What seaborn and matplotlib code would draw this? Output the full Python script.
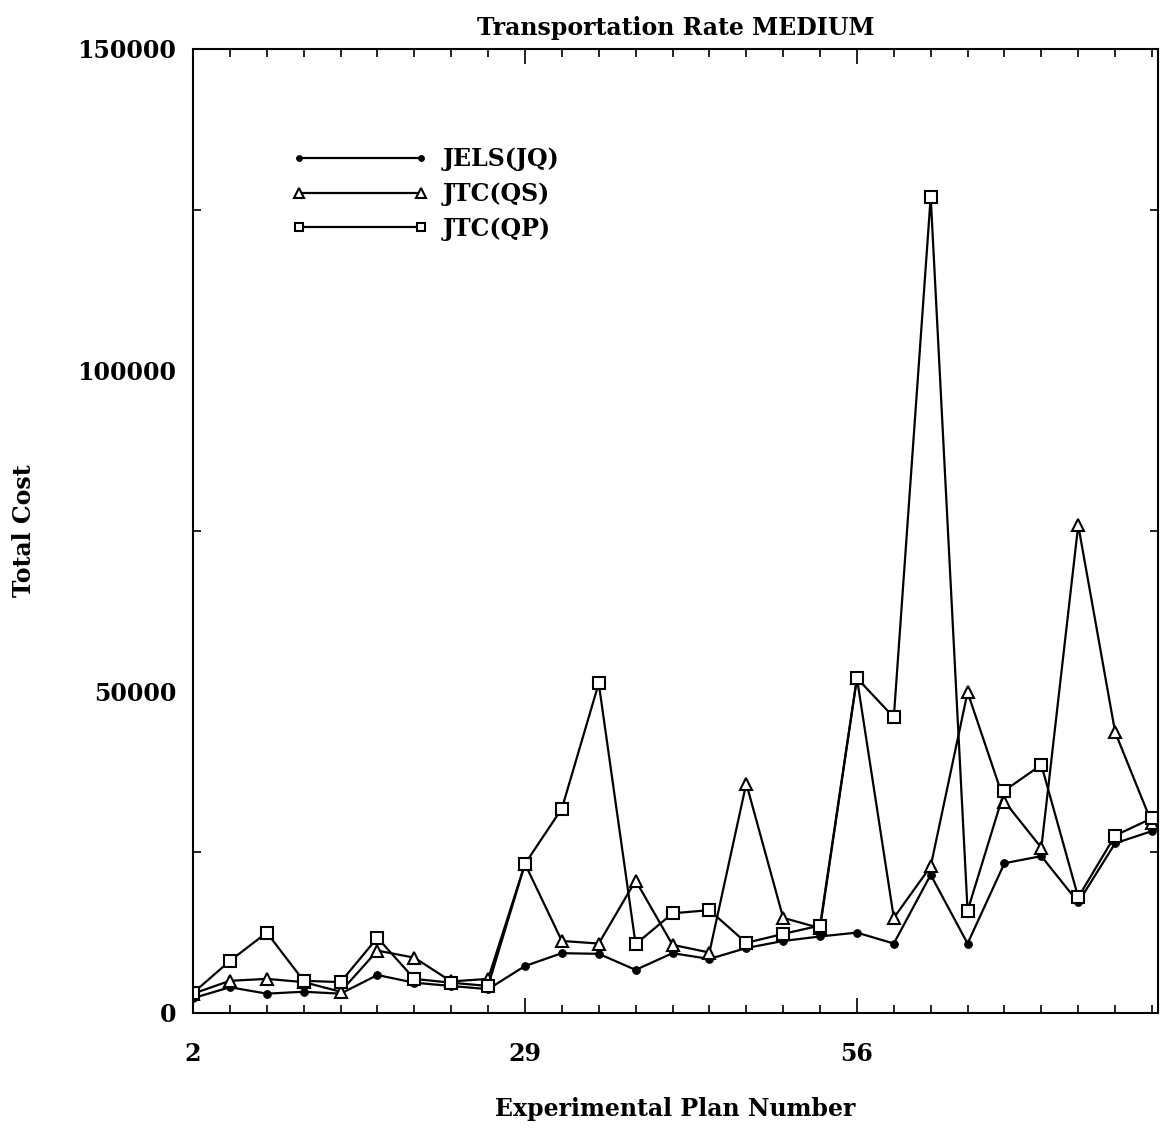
import numpy as np
import pandas as pd
import seaborn as sns
import matplotlib.pyplot as plt
from matplotlib.ticker import MultipleLocator, FixedLocator

# data
plan = [2, 5, 8, 11, 14, 17, 20, 23, 26, 29, 32, 35, 38, 41, 44, 47, 50, 53,
        56, 59, 62, 65, 68, 71, 74, 77, 80]
jels_jq = [2300, 4000, 3000, 3300, 3000, 5900, 4700, 4200, 3700, 7300, 9300,
           9200, 6700, 9300, 8400, 10100, 11200, 11900, 12500, 10800, 21500,
           10800, 23300, 24400, 17200, 26400, 28300]
jtc_qs = [3000, 5000, 5300, 4800, 3300, 9700, 8600, 4900, 5300, 23200, 11200,
          10800, 20600, 10600, 9400, 35700, 14800, 13200, 52100, 14800, 22800,
          49900, 32900, 25700, 75900, 43700, 29500]
jtc_qp = [3100, 8100, 12500, 5000, 4800, 11700, 5300, 4700, 4200, 23200, 31800,
          51300, 10700, 15500, 16000, 10900, 12300, 13600, 52100, 46000, 127000,
          15900, 34600, 38600, 18000, 27600, 30300]

df = pd.DataFrame({'plan': plan, 'JELS(JQ)': jels_jq,
                   'JTC(QS)': jtc_qs, 'JTC(QP)': jtc_qp})

sns.set_style('ticks')
plt.rcParams['font.family'] = ['DejaVu Serif']
plt.rcParams['font.weight'] = 'bold'
plt.rcParams['axes.titleweight'] = 'bold'
plt.rcParams['axes.labelweight'] = 'bold'
plt.rcParams['text.color'] = 'black'
plt.rcParams['axes.labelcolor'] = 'black'

fig = plt.figure(figsize=(11.6, 11.28), dpi=100)
ax = fig.add_axes([0.1664, 0.1020, 0.8320, 0.8546])

sns.lineplot(data=df, x='plan', y='JELS(JQ)', ax=ax, color='black', lw=1.6,
             marker='o', ms=5.5, mfc='black', mec='black', label='JELS(JQ)')
sns.lineplot(data=df, x='plan', y='JTC(QS)', ax=ax, color='black', lw=1.6,
             marker='^', ms=9, mfc='white', mec='black', mew=1.5,
             label='JTC(QS)')
sns.lineplot(data=df, x='plan', y='JTC(QP)', ax=ax, color='black', lw=1.6,
             marker='s', ms=8, mfc='white', mec='black', mew=1.5,
             label='JTC(QP)')

ax.set_xlim(2, 80.5)
ax.set_ylim(0, 150000)

ax.xaxis.set_major_locator(FixedLocator([2, 29, 56, 83]))
ax.xaxis.set_minor_locator(FixedLocator(np.arange(2, 84, 3)))
ax.yaxis.set_major_locator(MultipleLocator(50000))
ax.yaxis.set_minor_locator(MultipleLocator(25000))
ax.tick_params(which='both', direction='in', top=True, right=True,
               width=1.2, labelsize=17, colors='black')
ax.tick_params(which='major', length=11, pad=21)
ax.tick_params(which='minor', length=6)
ax.tick_params(axis='y', which='major', length=0, pad=12)

for s in ax.spines.values():
    s.set_linewidth(1.5)
    s.set_color('black')

ax.set_title('Transportation Rate MEDIUM', fontsize=17, pad=10, color='black')
ax.set_xlabel('Experimental Plan Number', fontsize=17, labelpad=22)
ax.set_ylabel('Total Cost', fontsize=17, labelpad=30)

leg = ax.legend(loc='upper left', bbox_to_anchor=(0.08, 0.92), frameon=False,
                fontsize=17, handlelength=5.8, numpoints=2, markerscale=0.75,
                labelspacing=0.45, handletextpad=0.6)
for t in leg.get_texts():
    t.set_color('black')

fig.savefig('out.png', dpi=100, facecolor='white')
